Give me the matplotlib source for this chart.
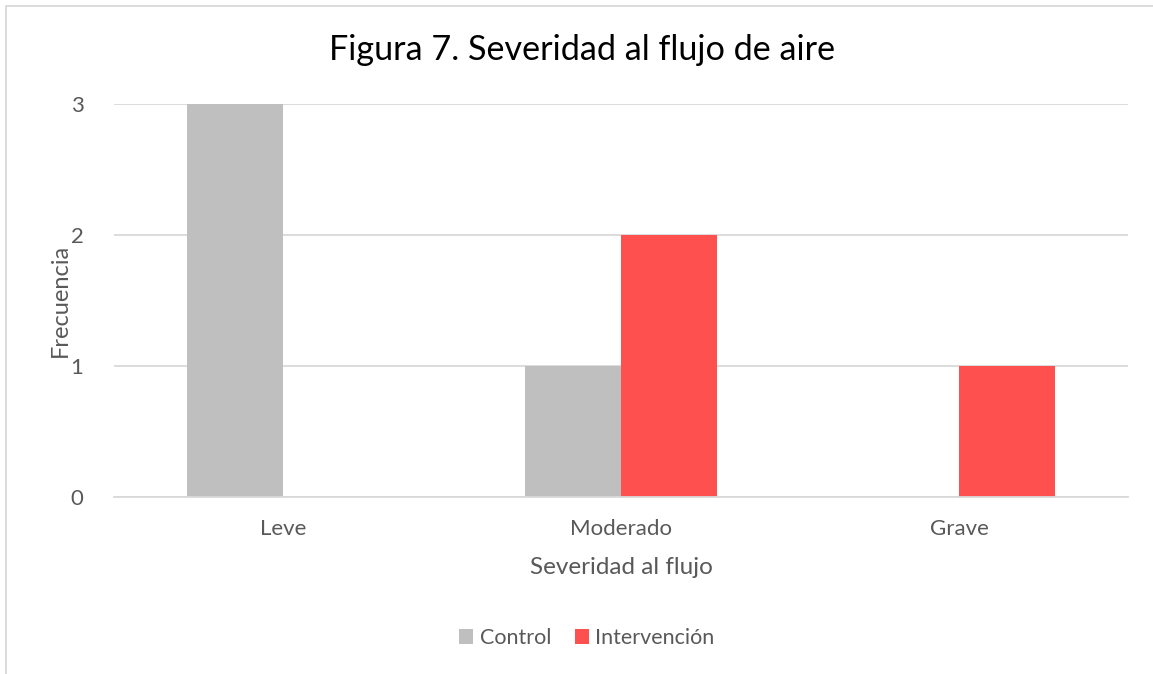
import matplotlib
matplotlib.use("Agg")
import matplotlib.pyplot as plt
import numpy as np
from matplotlib.patches import Rectangle

categories = ["Leve", "Moderado", "Grave"]
control = [3, 1, 0]
intervencion = [0, 2, 1]
series_names = ["Control", "Intervención"]
yticks = [0, 1, 2, 3]

plt.rcParams['font.family'] = ['Lato', 'DejaVu Sans']
W, H = 1153, 674
fig = plt.figure(figsize=(W / 100, H / 100), dpi=100)
fig.patch.set_facecolor("white")

# chart border (extends beyond right/bottom edges)
fig.patches.append(Rectangle((5.5 / W, -0.1), 1.2, 1 - 5.5 / H + 0.1,
                             transform=fig.transFigure, fill=False,
                             edgecolor="#D9D9D9", linewidth=1.3))

ax_l, ax_r, ax_t, ax_b = 114, 1128, 104, 497
ax = fig.add_axes([ax_l / W, 1 - ax_b / H, (ax_r - ax_l) / W, (ax_b - ax_t) / H])

x = np.arange(len(categories))
bw = 96 / 338
c_gray = "#BFBFBF"
c_red = "#FF5050"
ax.bar(x - bw / 2, control, width=bw, color=c_gray, label=series_names[0], zorder=3)
ax.bar(x + bw / 2, intervencion, width=bw, color=c_red, label=series_names[1], zorder=3)

ax.set_xlim(-0.5, len(categories) - 0.5)
ax.set_ylim(0, 3)
ax.set_yticks(yticks)
ax.set_yticklabels([str(v) for v in yticks])
ax.set_xticks(x)
ax.set_xticklabels(categories)
ax.yaxis.grid(True, color="#D9D9D9", linewidth=1.3, zorder=0)
ax.set_axisbelow(True)
for s in ["top", "right", "left"]:
    ax.spines[s].set_visible(False)
ax.spines["bottom"].set_color("#D9D9D9")
ax.spines["bottom"].set_linewidth(1.3)
ax.spines["bottom"].set_zorder(4)
ax.tick_params(axis="both", length=0, labelsize=16, colors="#595959")
ax.tick_params(axis="x", pad=16)
ax.tick_params(axis="y", pad=22)

ax.set_ylabel("Frecuencia", fontsize=17, color="#595959")
ax.set_xlabel("Severidad al flujo", fontsize=17.5, color="#595959")
ax.yaxis.set_label_coords((60 - ax_l) / (ax_r - ax_l), 0.5)
ax.xaxis.set_label_coords(0.5, -(568 - ax_b) / (ax_b - ax_t))
ax.xaxis.label.set_va("center")
ax.yaxis.label.set_va("center")

fig.text(582 / W, 1 - 50 / H, "Figura 7. Severidad al flujo de aire",
         ha="center", va="center", fontsize=24.6, color="#000000")

leg = fig.legend(loc="center", bbox_to_anchor=(587 / W, 1 - 638 / H), ncol=2,
                 frameon=False, fontsize=15.5, handlelength=0.65, handleheight=0.65,
                 handletextpad=0.3, columnspacing=1.1)
for t in leg.get_texts():
    t.set_color("#595959")

fig.savefig("out.png", dpi=100, facecolor="white")
